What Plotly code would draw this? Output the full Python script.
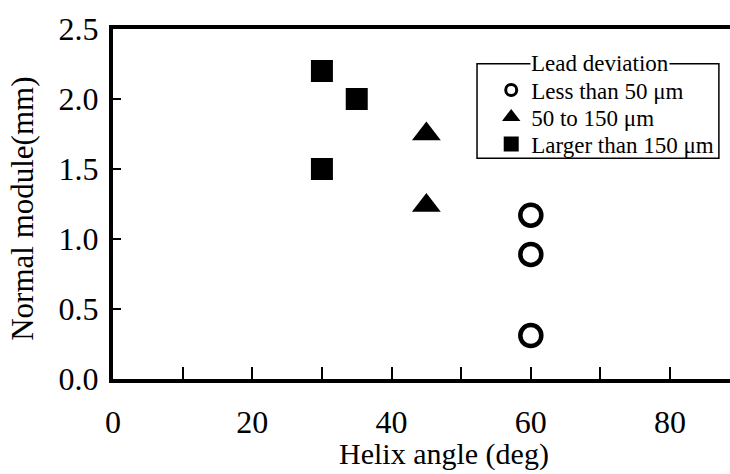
import plotly.graph_objects as go

# Data
circle_x = [60, 60, 60]
circle_y = [1.17, 0.89, 0.31]
tri_x = [45, 45]
tri_y = [1.75, 1.24]
sq_x = [30, 35, 30]
sq_y = [2.2, 2.0, 1.5]

labels = ["Less than 50 \u03bcm", "50 to 150 \u03bcm", "Larger than 150 \u03bcm"]
legend_title = "Lead deviation"
x_title = "Helix angle (deg)"
y_title = "Normal module(mm)"

FONT = "Liberation Serif"
LEG_FONT = dict(family=FONT, size=23, color="black")

fig = go.Figure()

# Data markers
fig.add_trace(go.Scatter(x=circle_x, y=circle_y, mode="markers", showlegend=False,
                         marker=dict(symbol="circle-open", size=21, color="black",
                                     line=dict(width=4.5, color="black"))))
fig.add_trace(go.Scatter(x=tri_x, y=tri_y, mode="markers", showlegend=False,
                         marker=dict(symbol="triangle-up", size=25, color="black",
                                     line=dict(width=0))))
fig.add_trace(go.Scatter(x=sq_x, y=sq_y, mode="markers", showlegend=False,
                         marker=dict(symbol="square", size=22, color="black",
                                     line=dict(width=0))))

# Legend-only entries (smaller symbols), one legend per row for exact spacing
fig.add_trace(go.Scatter(x=[None], y=[None], mode="markers", name=labels[0], legend="legend",
                         marker=dict(symbol="circle-open", size=11, color="black",
                                     line=dict(width=3, color="black"))))
fig.add_trace(go.Scatter(x=[None], y=[None], mode="markers", name=labels[1], legend="legend2",
                         marker=dict(symbol="triangle-up", size=16, color="black")))
fig.add_trace(go.Scatter(x=[None], y=[None], mode="markers", name=labels[2], legend="legend3",
                         marker=dict(symbol="square", size=15, color="black")))

def leg(y):
    return dict(x=0.613, y=y, xanchor="left", yanchor="middle",
                bgcolor="rgba(0,0,0,0)", borderwidth=0, font=LEG_FONT,
                itemsizing="trace")

fig.update_layout(
    width=730, height=474,
    margin=dict(l=113, r=0, t=29, b=95),
    paper_bgcolor="white", plot_bgcolor="white",
    font=dict(family=FONT, color="black"),
    showlegend=True,
    legend=leg((379 - 90) / 350),
    legend2=leg((379 - 117) / 350),
    legend3=leg((379 - 144) / 350),
    xaxis=dict(range=[0, 88.6], showgrid=False, zeroline=False,
               showline=True, linecolor="black", linewidth=4, mirror=True,
               tickmode="linear", tick0=0, dtick=20,
               ticks="inside", ticklen=12, tickwidth=1.5, tickcolor="black",
               minor=dict(dtick=10, tick0=0, ticks="inside", ticklen=12,
                          tickwidth=1.5, tickcolor="black", showgrid=False),
               tickfont=dict(family=FONT, size=32, color="black"),
               ticklabelstandoff=12),
    yaxis=dict(range=[0, 2.5], showgrid=False, zeroline=False,
               showline=True, linecolor="black", linewidth=4,
               tickmode="linear", tick0=0, dtick=0.5, tickformat=".1f",
               ticks="inside", ticklen=8, tickwidth=1.5, tickcolor="black",
               tickfont=dict(family=FONT, size=32, color="black"),
               ticklabelstandoff=4),
)

# Legend box with title breaking the top border
fig.add_shape(type="rect", xref="paper", yref="paper",
              x0=0.590, x1=0.982, y0=0.631, y1=0.901,
              line=dict(color="black", width=1.5), fillcolor="rgba(0,0,0,0)")
fig.add_annotation(xref="paper", yref="paper", x=0.789, y=0.901,
                   text=legend_title, showarrow=False, xanchor="center", yanchor="middle",
                   bgcolor="white", borderpad=0,
                   font=LEG_FONT)

# Axis titles
fig.add_annotation(xref="paper", yref="paper", x=0.536, y=(379 - 454) / 350,
                   text=x_title, showarrow=False, xanchor="center", yanchor="middle",
                   font=dict(family=FONT, size=30, color="black"))
fig.add_annotation(xref="paper", yref="paper", x=-0.146, y=0.486,
                   text=y_title, showarrow=False, textangle=-90,
                   xanchor="center", yanchor="middle",
                   font=dict(family=FONT, size=31, color="black"))

fig.write_html("out.html")
